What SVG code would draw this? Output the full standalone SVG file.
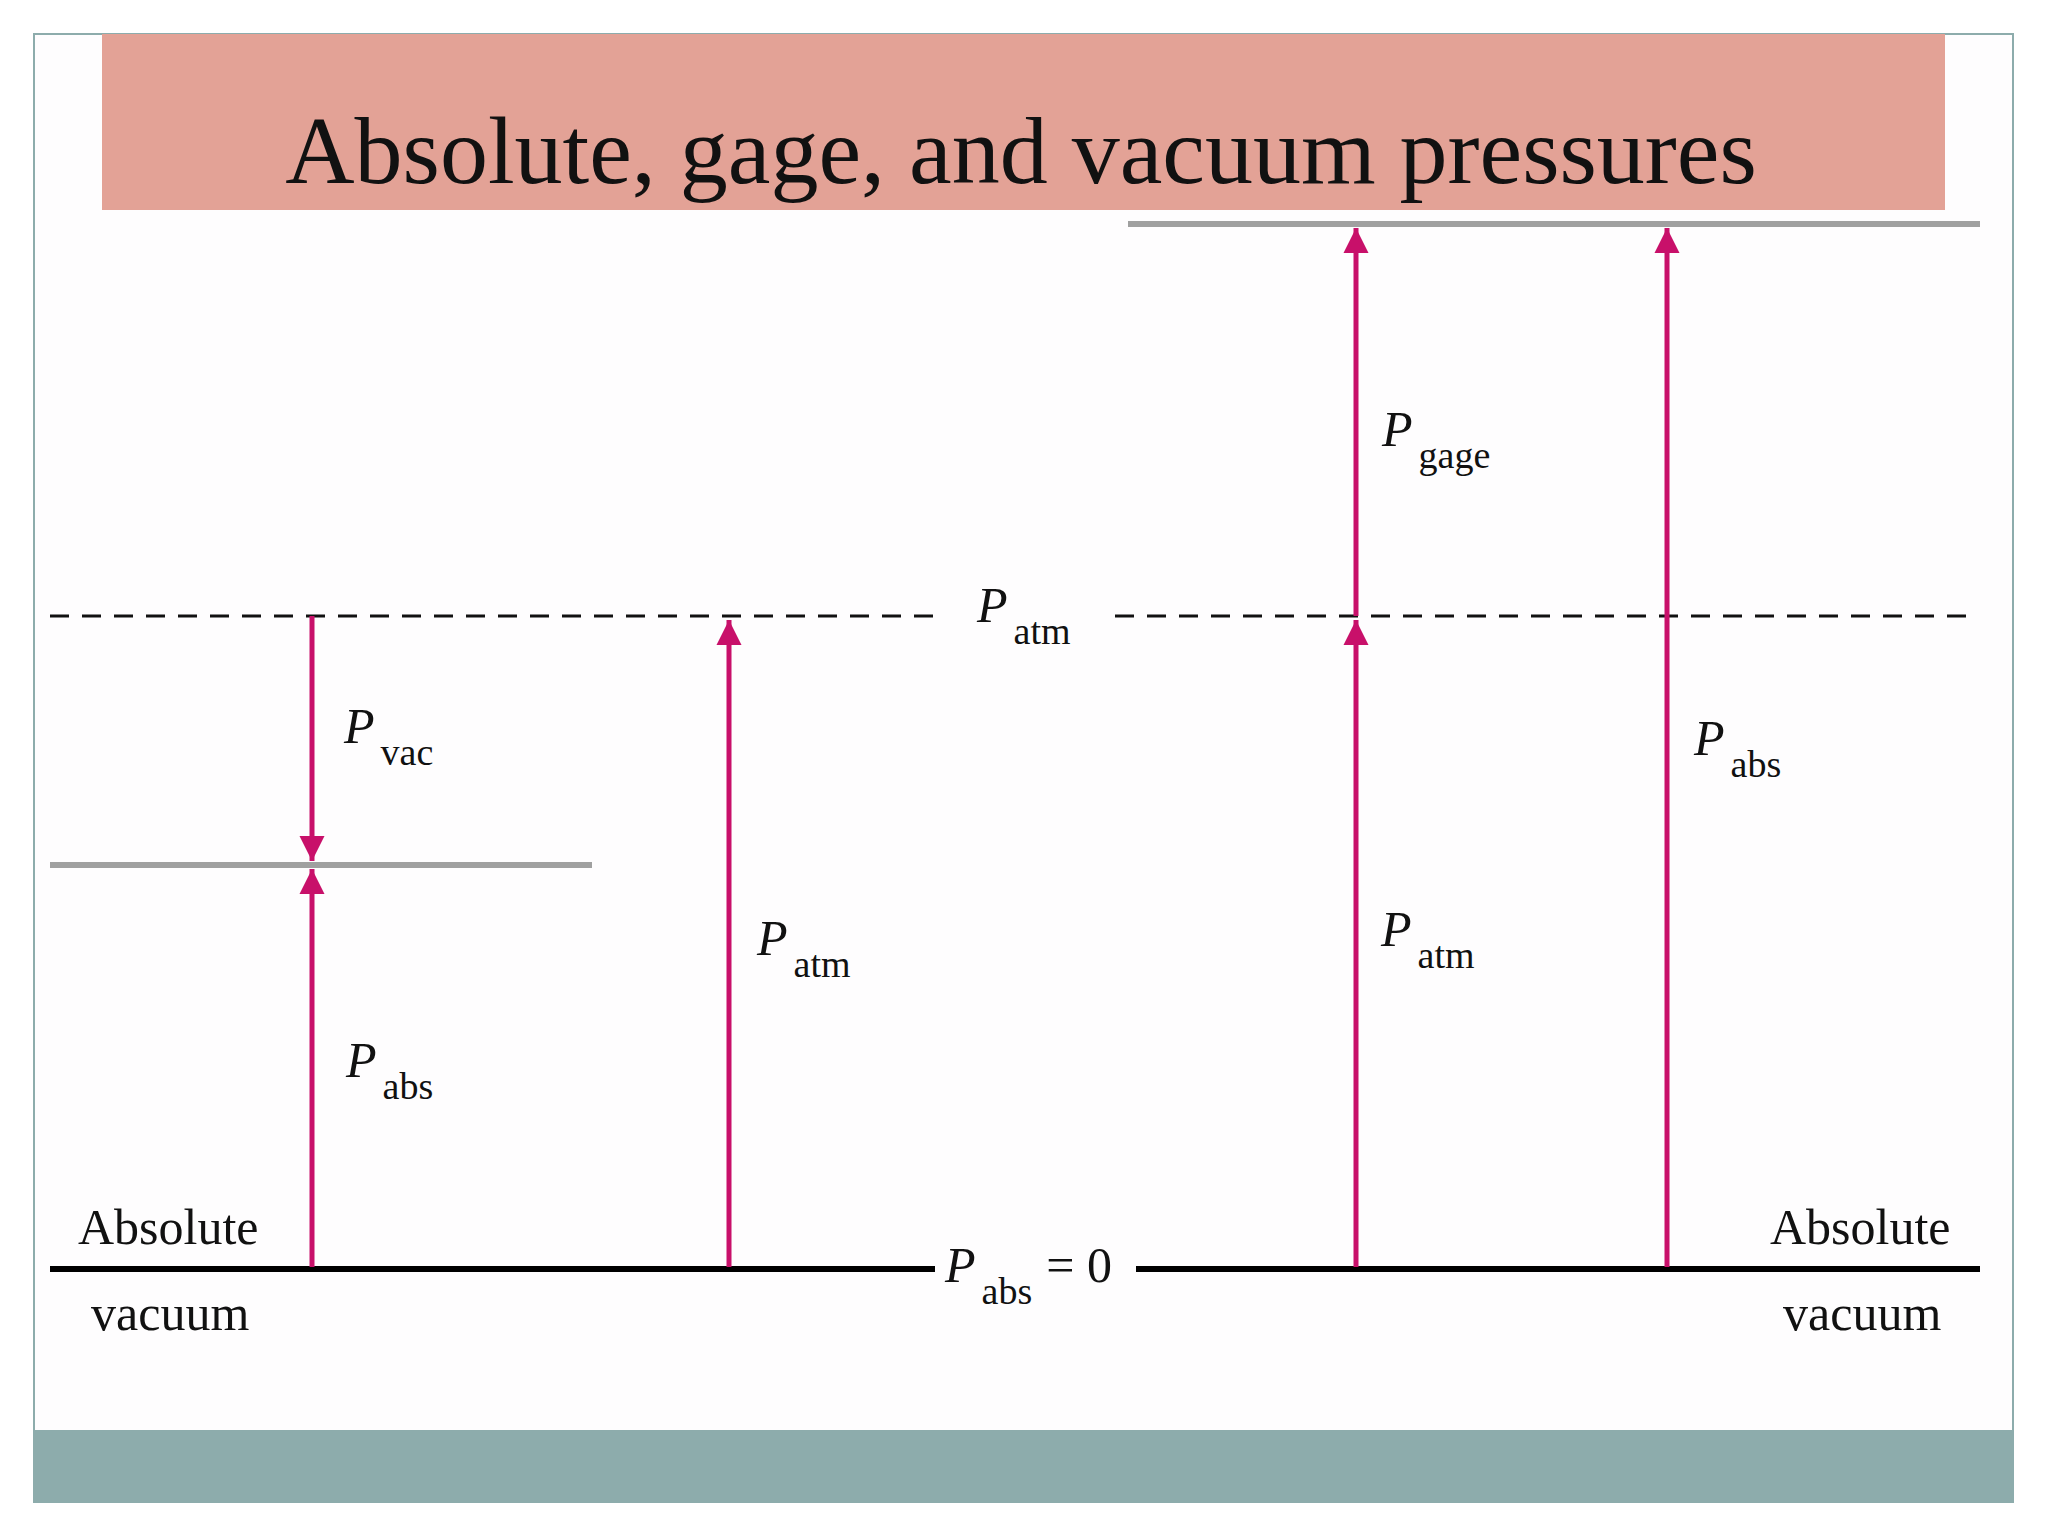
<svg xmlns="http://www.w3.org/2000/svg" width="2048" height="1536" viewBox="0 0 2048 1536">
<defs>
<marker id="ah" viewBox="0 0 10 10" refX="10" refY="5" markerWidth="5" markerHeight="6" markerUnits="strokeWidth" orient="auto"><path d="M0,0 L10,5 L0,10 Z" fill="#C8106A"/></marker>
<style>
.t{font-family:"Liberation Serif",serif;fill:#111}
.P{font-style:italic;font-size:50px}
.s{font-size:38px}
.lbl{font-size:50px}
.arr{stroke:#C8106A;stroke-width:5;fill:none;marker-end:url(#ah)}
</style>
</defs>
<rect width="2048" height="1536" fill="#fff"/>
<rect x="34" y="34" width="1979" height="1468" fill="#FEFDFE" stroke="#8DACAC" stroke-width="2"/>
<rect x="102" y="34" width="1843" height="176" fill="#E3A296"/>
<text class="t" x="1021" y="183" font-size="96" text-anchor="middle">Absolute, gage, and vacuum pressures</text>
<rect x="34" y="1430" width="1979" height="72" fill="#8DACAC"/>
<g id="lines">
<line x1="1128" y1="224" x2="1980" y2="224" stroke="#A0A0A0" stroke-width="6"/>
<line x1="50" y1="865" x2="592" y2="865" stroke="#A0A0A0" stroke-width="6"/>
<line x1="50" y1="616" x2="943" y2="616" stroke="#111" stroke-width="3" stroke-dasharray="19,13"/>
<line x1="1115" y1="616" x2="1970" y2="616" stroke="#111" stroke-width="3" stroke-dasharray="19,13"/>
<line x1="50" y1="1269" x2="935" y2="1269" stroke="#000" stroke-width="6"/>
<line x1="1136" y1="1269" x2="1980" y2="1269" stroke="#000" stroke-width="6"/>
</g>
<g id="connectors">
<line class="arr" x1="312" y1="616" x2="312" y2="861"/>
<line class="arr" x1="312" y1="1267" x2="312" y2="869"/>
<line class="arr" x1="729" y1="1267" x2="729" y2="620"/>
<line class="arr" x1="1356" y1="1267" x2="1356" y2="620"/>
<line class="arr" x1="1356" y1="616" x2="1356" y2="228"/>
<line class="arr" x1="1667" y1="1267" x2="1667" y2="228"/>
</g>
<g id="labels">
<text class="t" x="344" y="743"><tspan class="P">P</tspan><tspan class="s" dx="6" dy="22">vac</tspan></text>
<text class="t" x="346" y="1077"><tspan class="P">P</tspan><tspan class="s" dx="6" dy="22">abs</tspan></text>
<text class="t" x="757" y="955"><tspan class="P">P</tspan><tspan class="s" dx="6" dy="22">atm</tspan></text>
<text class="t" x="977" y="622"><tspan class="P">P</tspan><tspan class="s" dx="6" dy="22">atm</tspan></text>
<text class="t" x="1382" y="446"><tspan class="P">P</tspan><tspan class="s" dx="6" dy="22">gage</tspan></text>
<text class="t" x="1381" y="946"><tspan class="P">P</tspan><tspan class="s" dx="6" dy="22">atm</tspan></text>
<text class="t" x="1694" y="755"><tspan class="P">P</tspan><tspan class="s" dx="6" dy="22">abs</tspan></text>
<text class="t" x="945" y="1282"><tspan class="P">P</tspan><tspan class="s" dx="6" dy="22">abs</tspan><tspan class="lbl" dx="14" dy="-22">= 0</tspan></text>
<text class="t lbl" x="78" y="1244">Absolute</text>
<text class="t lbl" x="91" y="1330">vacuum</text>
<text class="t lbl" x="1770" y="1244">Absolute</text>
<text class="t lbl" x="1783" y="1330">vacuum</text>
</g>
</svg>
